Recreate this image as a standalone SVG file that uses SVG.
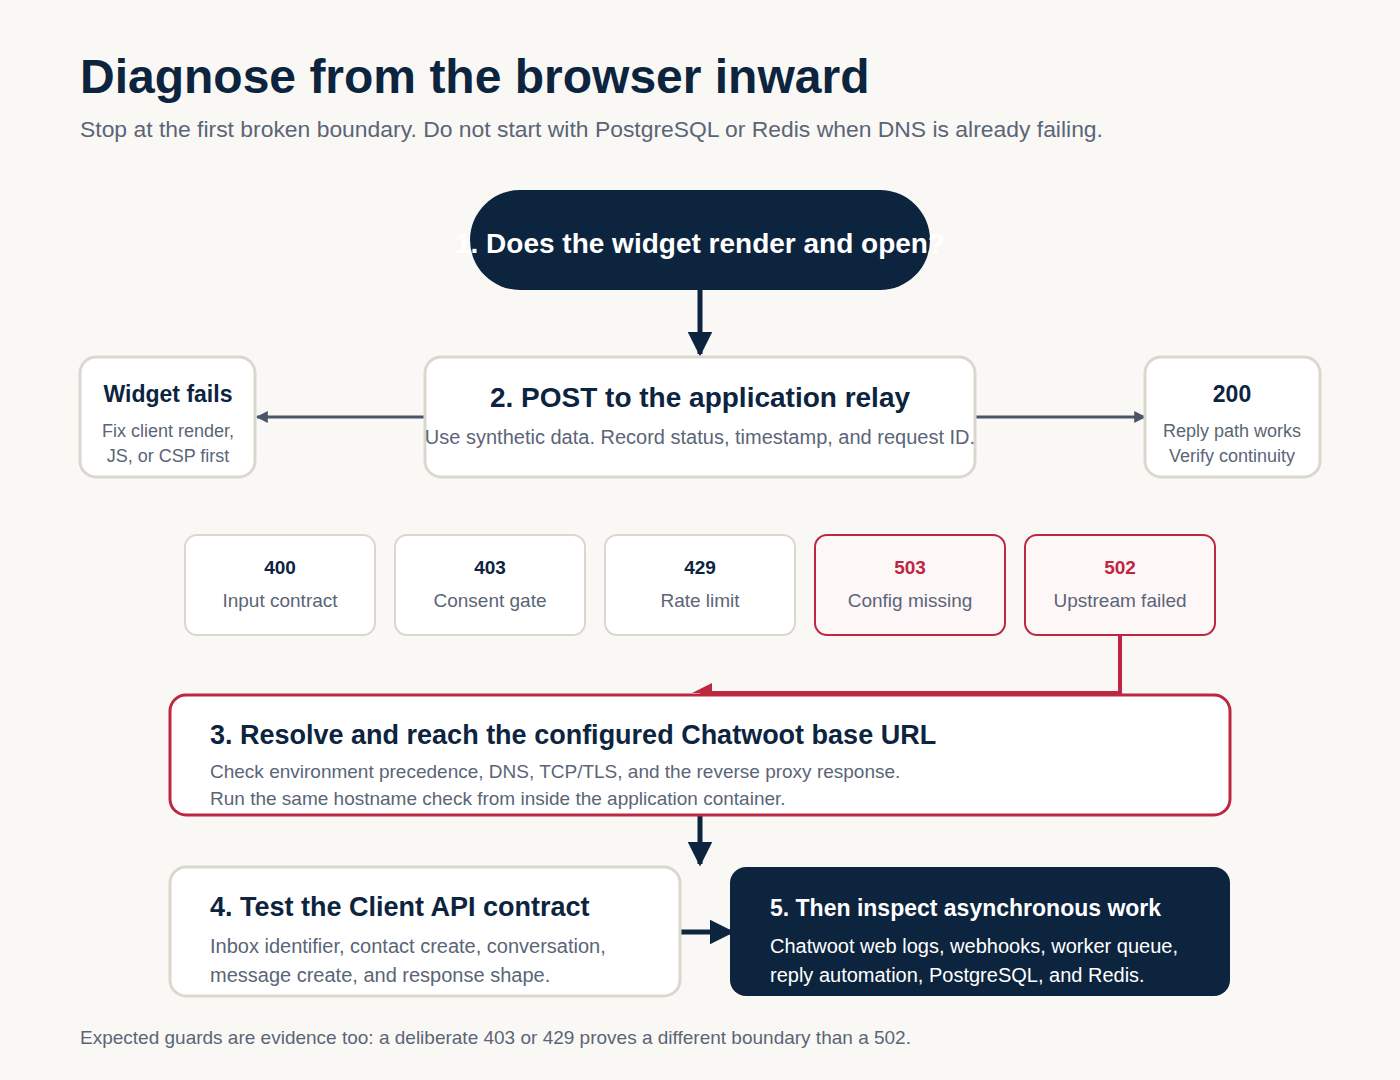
<svg xmlns="http://www.w3.org/2000/svg" width="1400" height="1080" viewBox="0 0 1400 1080">
<style>
text{font-family:"Liberation Sans",Arial,sans-serif}
.card{fill:#fff;stroke:#dcd7ce;stroke-width:3}
.red{fill:#fff;stroke:#bd2741;stroke-width:3}
.redp{fill:#fef7f7;stroke:#bd2741;stroke-width:2}
.dark{fill:#0d243f}
.h{font-weight:bold;fill:#0d243f}
.s{fill:#5a6577}
</style>
<defs>
<marker id="ad" viewBox="0 0 10 10" refX="9" refY="5" markerWidth="5" markerHeight="5" orient="auto"><path d="M0,0L10,5L0,10z" fill="#0d243f"/></marker>
<marker id="ag" viewBox="0 0 10 10" refX="9" refY="5" markerWidth="4" markerHeight="6" orient="auto"><path d="M0,0L10,5L0,10z" fill="#4a5568"/></marker>
</defs>
<rect width="1400" height="1080" fill="#faf8f5"/>
<text x="80" y="93" font-size="48" class="h">Diagnose from the browser inward</text>
<text x="80" y="137" font-size="22.9" class="s">Stop at the first broken boundary. Do not start with PostgreSQL or Redis when DNS is already failing.</text>
<g id="connectors">
<line x1="700" y1="290" x2="700" y2="354" stroke="#0d243f" stroke-width="5" marker-end="url(#ad)"/>
<line x1="425" y1="417" x2="257" y2="417" stroke="#4a5568" stroke-width="3" marker-end="url(#ag)"/>
<line x1="975" y1="417" x2="1145" y2="417" stroke="#4a5568" stroke-width="3" marker-end="url(#ag)"/>
<path d="M1120,636V693H700" fill="none" stroke="#bd2741" stroke-width="4"/>
<path d="M692,693L712,683V693z" fill="#bd2741"/>
<line x1="700" y1="816" x2="700" y2="864" stroke="#0d243f" stroke-width="5" marker-end="url(#ad)"/>
<line x1="680" y1="932" x2="732" y2="932" stroke="#0d243f" stroke-width="5" marker-end="url(#ad)"/>
</g>
<g id="n1"><rect x="470" y="190" width="460" height="100" rx="50" class="dark"/>
<text x="700" y="253" font-size="28" font-weight="bold" fill="#fff" text-anchor="middle">1. Does the widget render and open?</text></g>
<g id="n2"><rect x="425" y="357" width="550" height="120" rx="16" class="card"/>
<text x="700" y="407" font-size="28" class="h" text-anchor="middle">2. POST to the application relay</text>
<text x="700" y="444" font-size="20" class="s" text-anchor="middle">Use synthetic data. Record status, timestamp, and request ID.</text></g>
<g id="fail"><rect x="80" y="357" width="175" height="120" rx="16" class="card"/>
<text x="168" y="402" font-size="23" class="h" text-anchor="middle">Widget fails</text>
<text x="168" y="437" font-size="18" class="s" text-anchor="middle">Fix client render,</text>
<text x="168" y="462" font-size="18" class="s" text-anchor="middle">JS, or CSP first</text></g>
<g id="ok"><rect x="1145" y="357" width="175" height="120" rx="16" class="card"/>
<text x="1232" y="402" font-size="23" class="h" text-anchor="middle">200</text>
<text x="1232" y="437" font-size="18" class="s" text-anchor="middle">Reply path works</text>
<text x="1232" y="462" font-size="18" class="s" text-anchor="middle">Verify continuity</text></g>
<g id="c400"><rect x="185" y="535" width="190" height="100" rx="12" fill="#fff" stroke="#dcd7ce" stroke-width="2"/>
<text x="280" y="574" font-size="19" class="h" text-anchor="middle">400</text>
<text x="280" y="607" font-size="19" class="s" text-anchor="middle">Input contract</text></g>
<g id="c403"><rect x="395" y="535" width="190" height="100" rx="12" fill="#fff" stroke="#dcd7ce" stroke-width="2"/>
<text x="490" y="574" font-size="19" class="h" text-anchor="middle">403</text>
<text x="490" y="607" font-size="19" class="s" text-anchor="middle">Consent gate</text></g>
<g id="c429"><rect x="605" y="535" width="190" height="100" rx="12" fill="#fff" stroke="#dcd7ce" stroke-width="2"/>
<text x="700" y="574" font-size="19" class="h" text-anchor="middle">429</text>
<text x="700" y="607" font-size="19" class="s" text-anchor="middle">Rate limit</text></g>
<g id="c503"><rect x="815" y="535" width="190" height="100" rx="12" class="redp"/>
<text x="910" y="574" font-size="19" font-weight="bold" fill="#bd2741" text-anchor="middle">503</text>
<text x="910" y="607" font-size="19" class="s" text-anchor="middle">Config missing</text></g>
<g id="c502"><rect x="1025" y="535" width="190" height="100" rx="12" class="redp" stroke-width="3"/>
<text x="1120" y="574" font-size="19" font-weight="bold" fill="#bd2741" text-anchor="middle">502</text>
<text x="1120" y="607" font-size="19" class="s" text-anchor="middle">Upstream failed</text></g>
<g id="n3"><rect x="170" y="695" width="1060" height="120" rx="16" class="red"/>
<text x="210" y="744" font-size="27" class="h">3. Resolve and reach the configured Chatwoot base URL</text>
<text x="210" y="778" font-size="19" class="s">Check environment precedence, DNS, TCP/TLS, and the reverse proxy response.</text>
<text x="210" y="805" font-size="19" class="s">Run the same hostname check from inside the application container.</text></g>
<g id="n4"><rect x="170" y="867" width="510" height="129" rx="16" class="card"/>
<text x="210" y="916" font-size="27" class="h">4. Test the Client API contract</text>
<text x="210" y="953" font-size="20" class="s">Inbox identifier, contact create, conversation,</text>
<text x="210" y="982" font-size="20" class="s">message create, and response shape.</text></g>
<g id="n5"><rect x="730" y="867" width="500" height="129" rx="16" class="dark"/>
<text x="770" y="916" font-size="23" font-weight="bold" fill="#fff">5. Then inspect asynchronous work</text>
<text x="770" y="953" font-size="20" fill="#fff">Chatwoot web logs, webhooks, worker queue,</text>
<text x="770" y="982" font-size="20" fill="#fff">reply automation, PostgreSQL, and Redis.</text></g>
<text x="80" y="1044" font-size="19" class="s">Expected guards are evidence too: a deliberate 403 or 429 proves a different boundary than a 502.</text>
</svg>
